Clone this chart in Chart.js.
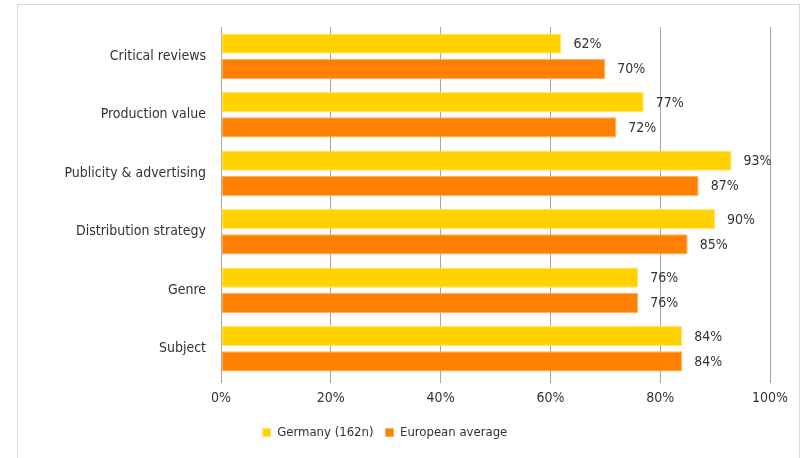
<!DOCTYPE html>
<html>
<head>
<meta charset="utf-8">
<script src="https://cdn.jsdelivr.net/npm/chart.js@4.4.1/dist/chart.umd.min.js"></script>
<style>
  html, body { margin: 0; padding: 0; background: #fff; }
  #wrap { position: relative; width: 809px; height: 458px; }
  #frame { position: absolute; left: 17px; top: 4px; width: 783px; height: 470px; border: 1px solid #d9d9d9; box-sizing: border-box; pointer-events: none; }
  canvas { position: absolute; left: 0; top: 0; }
</style>
</head>
<body>
<div id="wrap">
  <canvas id="c" width="809" height="458"></canvas>
  <div id="frame"></div>
</div>
<script>
const categories = ['Critical reviews', 'Production value', 'Publicity & advertising', 'Distribution strategy', 'Genre', 'Subject'];
const germany = [62, 77, 93, 90, 76, 84];
const europe = [70, 72, 87, 85, 76, 84];
const seriesNames = ['Germany (162n)', 'European average'];
const xTicks = [0, 20, 40, 60, 80, 100];

const FONT = "'DejaVu Sans Condensed', 'DejaVu Sans', sans-serif";
const TEXT = '#333333';
const GRID = '#a6a6a6';

// Writes each bar's percentage just past its end
const valueLabels = {
  id: 'valueLabels',
  afterDatasetsDraw(chart) {
    const ctx = chart.ctx;
    ctx.save();
    ctx.font = '14px ' + FONT;
    ctx.fillStyle = TEXT;
    ctx.textAlign = 'left';
    ctx.textBaseline = 'middle';
    chart.data.datasets.forEach((ds, i) => {
      chart.getDatasetMeta(i).data.forEach((bar, j) => {
        ctx.fillText(ds.data[j] + '%', bar.x + 12, bar.y + 1);
      });
    });
    ctx.restore();
  }
};

new Chart(document.getElementById('c'), {
  type: 'bar',
  data: {
    labels: categories,
    datasets: [
      { label: seriesNames[0], data: germany, backgroundColor: '#ffd200', borderColor: '#ffe676', borderWidth: 1, borderSkipped: false },
      { label: seriesNames[1], data: europe, backgroundColor: '#ff7f00', borderColor: '#ffb060', borderWidth: 1, borderSkipped: false }
    ]
  },
  options: {
    indexAxis: 'y',
    responsive: false,
    animation: false,
    devicePixelRatio: 1,
    layout: { padding: { left: 0, right: 39, top: 27, bottom: 9 } },
    datasets: { bar: { categoryPercentage: 0.86, barPercentage: 0.8 } },
    scales: {
      x: {
        min: 0, max: 100,
        afterBuildTicks(scale) { scale.ticks = xTicks.map(v => ({ value: v })); },
        afterFit(scale) { scale.height = 36; },
        grid: { color: GRID, lineWidth: 1, drawTicks: true, tickLength: 5, tickColor: GRID },
        border: { display: false },
        ticks: { color: TEXT, font: { family: FONT, size: 14 }, padding: 7, callback: v => v + '%' }
      },
      y: {
        afterFit(scale) { scale.width = 221; },
        grid: { display: false },
        border: { display: true, color: GRID, width: 1 },
        ticks: { color: TEXT, font: { family: FONT, size: 14 }, padding: 7 }
      }
    },
    plugins: {
      legend: {
        position: 'bottom',
        labels: { color: TEXT, font: { family: FONT, size: 13 }, boxWidth: 8, boxHeight: 8, padding: 12, useBorderRadius: false }
      },
      tooltip: { enabled: false }
    }
  },
  plugins: [valueLabels]
});
</script>
</body>
</html>
